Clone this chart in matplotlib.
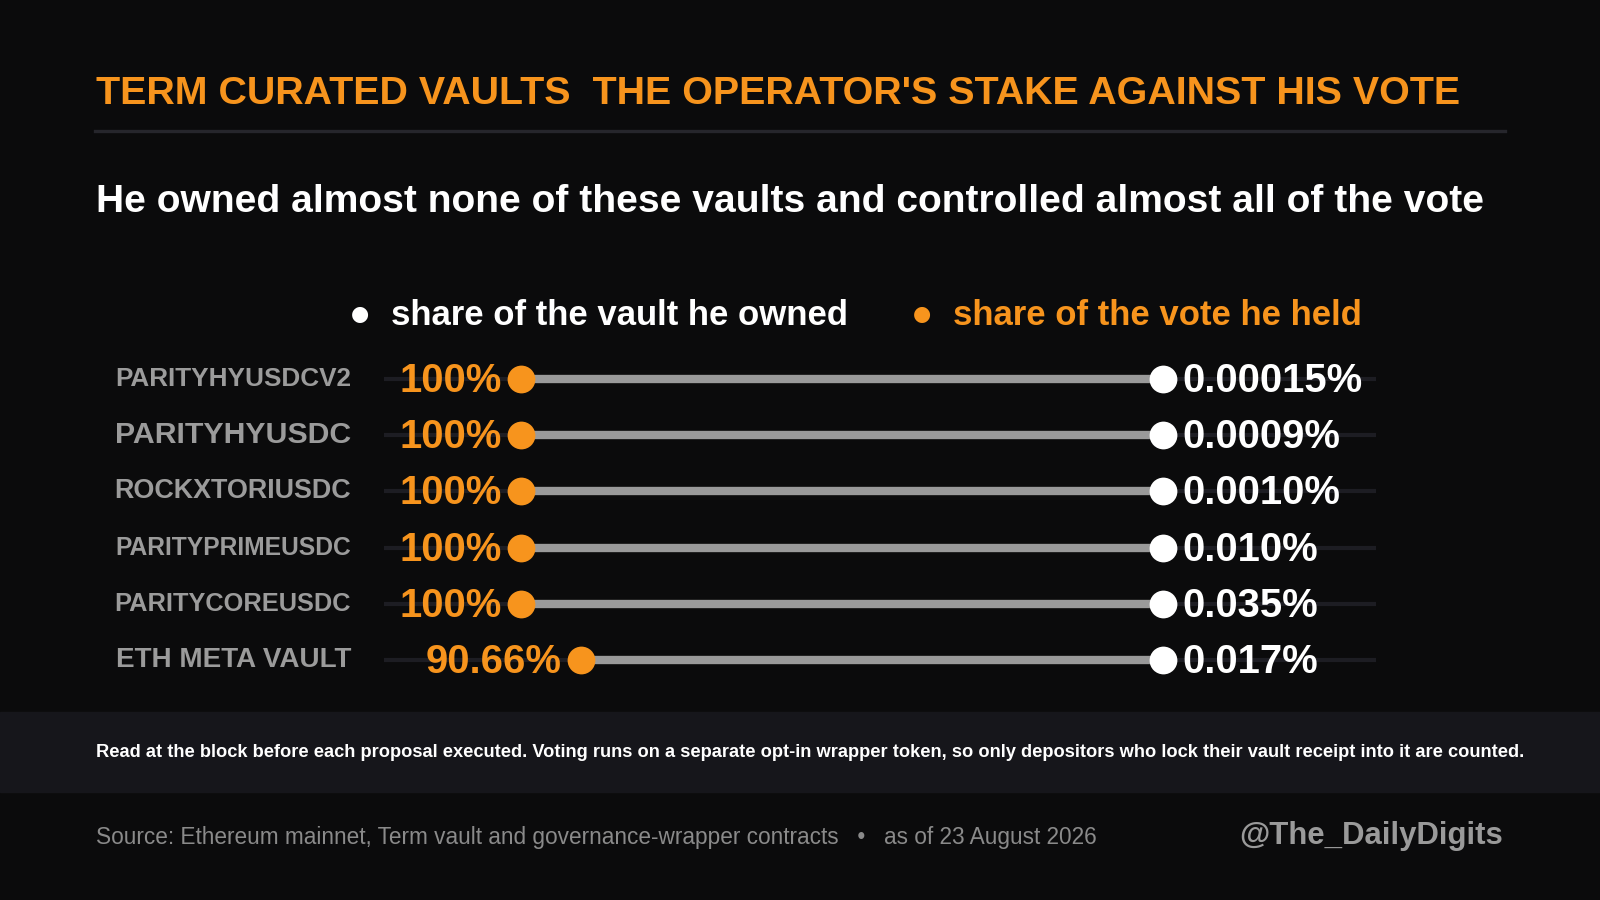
import matplotlib
matplotlib.use("Agg")
import matplotlib.pyplot as plt

# data
vaults = ["PARITYHYUSDCV2", "PARITYHYUSDC", "ROCKXTORIUSDC",
          "PARITYPRIMEUSDC", "PARITYCOREUSDC", "ETH META VAULT"]
owned_pct = [0.00015, 0.0009, 0.0010, 0.010, 0.035, 0.017]
vote_pct = [100, 100, 100, 100, 100, 90.66]
owned_labels = ["0.00015%", "0.0009%", "0.0010%", "0.010%", "0.035%", "0.017%"]
vote_labels = ["100%", "100%", "100%", "100%", "100%", "90.66%"]

title = "TERM CURATED VAULTS  THE OPERATOR'S STAKE AGAINST HIS VOTE"
subtitle = "He owned almost none of these vaults and controlled almost all of the vote"
legend_owned = "share of the vault he owned"
legend_vote = "share of the vote he held"
footnote = ("Read at the block before each proposal executed. Voting runs on a separate opt-in "
            "wrapper token, so only depositors who lock their vault receipt into it are counted.")
source = "Source: Ethereum mainnet, Term vault and governance-wrapper contracts   \u2022   as of 23 August 2026"
handle = "@The_DailyDigits"

BG = "#0b0b0c"
BAND = "#16161b"
ORANGE = "#f7941d"
WHITE = "#ffffff"
GREY = "#9a9a9a"
LABEL = "#9b9b9b"
TRACK = "#1d1d23"
SANS = "Liberation Sans"

# reference canvas was 1568 x 882, helpers to place things in figure fraction
W, H = 1568.0, 882.0
def fx(x):
    return x / W
def fy(y):
    return 1 - y / H

fig = plt.figure(figsize=(16, 9), dpi=100, facecolor=BG)

# title block
fig.text(fx(94), fy(92), title, color=ORANGE, fontsize=28.35, fontweight="bold",
         family=SANS, ha="left", va="center")
fig.add_artist(plt.Line2D([fx(93), fx(1475)], [fy(128), fy(128)], color="#26262c", lw=2.4))
fig.text(fx(94), fy(198), subtitle, color=WHITE, fontsize=28.1, fontweight="bold",
         family=SANS, ha="left", va="center")

# legend
fig.text(fx(353), fy(308), "\u25cf", color=WHITE, fontsize=15, family="DejaVu Sans",
         ha="center", va="center")
fig.text(fx(383), fy(309), legend_owned, color=WHITE, fontsize=25, fontweight="bold",
         family=SANS, ha="left", va="center")
fig.text(fx(904), fy(308), "\u25cf", color=ORANGE, fontsize=15, family="DejaVu Sans",
         ha="center", va="center")
fig.text(fx(934), fy(309), legend_vote, color=ORANGE, fontsize=25, fontweight="bold",
         family=SANS, ha="left", va="center")

# dumbbell axes: 100% on the left, 0% on the right
ax = fig.add_axes([fx(376), fy(674.6), (1348 - 376) / W, (674.6 - 343.4) / H])
ax.set_facecolor("none")
ax.set_xlim(121.46, -33.07)
ax.set_ylim(len(vaults) - 0.5, -0.5)
ax.axis("off")

rows = list(range(len(vaults)))
for i in rows:
    ax.axhline(i, color=TRACK, lw=3, zorder=1)
    ax.plot([owned_pct[i], vote_pct[i]], [i, i], color=GREY, lw=6, solid_capstyle="butt", zorder=2)
ax.plot(vote_pct, rows, "o", color=ORANGE, ms=20, mec="none", zorder=3)
ax.plot(owned_pct, rows, "o", color=WHITE, ms=20, mec="none", zorder=3)

for i in rows:
    ax.annotate(vote_labels[i], (vote_pct[i], i), xytext=(-14, -1.5), textcoords="offset points",
                ha="right", va="center", color=ORANGE, fontsize=28.8, fontweight="bold",
                family=SANS)
    ax.annotate(owned_labels[i], (owned_pct[i], i), xytext=(14, -1.5), textcoords="offset points",
                ha="left", va="center", color=WHITE, fontsize=28.8, fontweight="bold",
                family=SANS)

# row labels, each squeezed to the same width
fig.canvas.draw()
renderer = fig.canvas.get_renderer()
target_w = 231 / W * fig.bbox.width
for i in rows:
    t = ax.annotate(vaults[i], (fx(344), i), xycoords=("figure fraction", "data"),
                    ha="right", va="center", color=LABEL, fontsize=18, fontweight="bold",
                    family=SANS)
    w = t.get_window_extent(renderer).width
    t.set_fontsize(min(22, 18 * target_w / w))

# footnote band
fig.add_artist(plt.Rectangle((0, fy(776)), 1, (776 - 698) / H, transform=fig.transFigure,
                             color=BAND, zorder=0))
fig.text(fx(94), fy(737), footnote, color=WHITE, fontsize=13.17, fontweight="bold",
         family=SANS, ha="left", va="center")

fig.text(fx(94), fy(821), source, color="#8a8a8a", fontsize=16.3, family=SANS,
         ha="left", va="center")
fig.text(fx(1473), fy(819), handle, color="#9a9a9a", fontsize=22.4, fontweight="bold",
         family=SANS, ha="right", va="center")

fig.savefig("out.png", dpi=100, facecolor=BG)
